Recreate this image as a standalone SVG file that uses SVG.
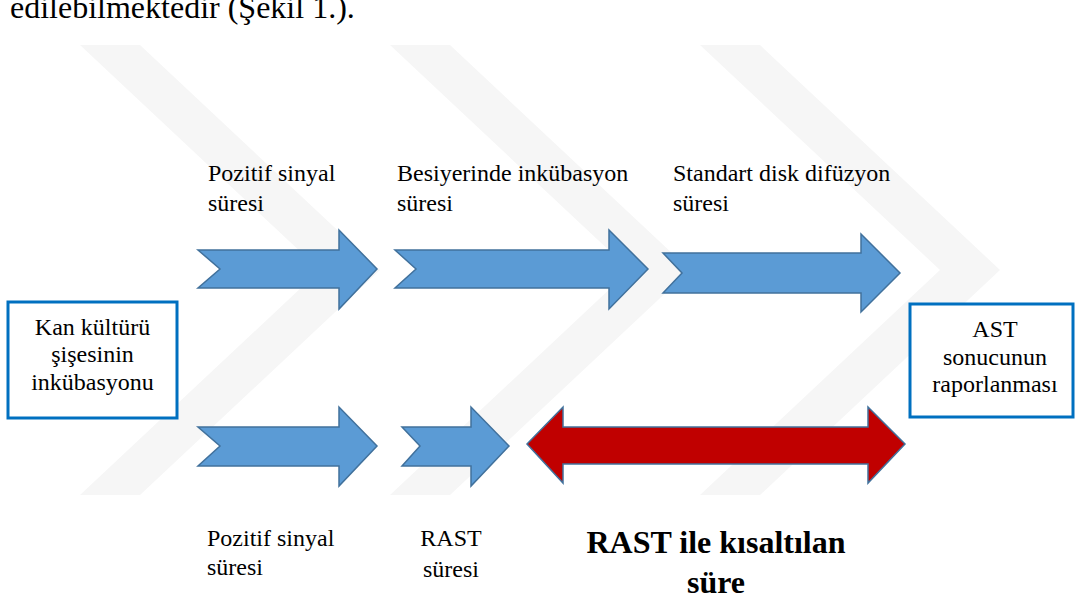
<svg xmlns="http://www.w3.org/2000/svg" width="1076" height="598" viewBox="0 0 1076 598">
<style>
  .t { font-family: "Liberation Serif", "Times New Roman", serif; font-size: 24px; fill: #000; }
  .mid { text-anchor: middle; }
  .big { font-family: "Liberation Serif", "Times New Roman", serif; font-size: 32px; fill: #000; }
  .bold { font-weight: bold; }
  .box { fill: #fff; stroke: #0070c0; stroke-width: 3; }
  .arr { fill: #5b9bd5; stroke: #41719c; stroke-width: 1.5; stroke-linejoin: miter; }
  .red { fill: #c00000; stroke: #41719c; stroke-width: 1.5; }
  .wm { fill: #f6f6f6; }
</style>
<rect width="1076" height="598" fill="#fff"/>
<g id="watermark">
  <polygon class="wm" points="80,45 140,45 380,270 140,495 80,495 320,270"/>
  <polygon class="wm" points="390,45 450,45 690,270 450,495 390,495 630,270"/>
  <polygon class="wm" points="700,45 760,45 1000,270 760,495 700,495 940,270"/>
</g>
<text class="big" x="10" y="18">edilebilmektedir (Şekil 1.).</text>
<g id="connectors">
  <polygon id="arrow-top-1" class="arr" points="198,250 339,250 339,230 377,269 339,309 339,288 198,288 220,269"/>
  <polygon id="arrow-top-2" class="arr" points="395,250 609,250 609,230 648,269 609,309 609,288 395,288 416,269"/>
  <polygon id="arrow-top-3" class="arr" points="663,253 861,253 861,234 900,273 861,312 861,293 663,293 682,273"/>
  <polygon id="arrow-bot-1" class="arr" points="198,427 339,427 339,407 377,446 339,486 339,466 198,466 220,446"/>
  <polygon id="arrow-bot-2" class="arr" points="402,427 471,427 471,407 509,446 471,486 471,466 402,466 420,446"/>
  <polygon id="arrow-red" class="red" points="527,444 563,407 563,427 868,427 868,407 905,444 868,483 868,464 563,464 563,483"/>
</g>
<g id="node-start">
  <rect class="box" x="8" y="302" width="169" height="116"/>
  <text class="t mid" x="92.5" y="335">Kan kültürü</text>
  <text class="t mid" x="92.5" y="362">şişesinin</text>
  <text class="t mid" x="92.5" y="390">inkübasyonu</text>
</g>
<g id="node-end">
  <rect class="box" x="910" y="304" width="163" height="113"/>
  <text class="t mid" x="995" y="337">AST</text>
  <text class="t mid" x="995" y="365">sonucunun</text>
  <text class="t mid" x="995" y="392">raporlanması</text>
</g>
<g id="labels-top">
  <text class="t" x="208" y="181">Pozitif sinyal</text>
  <text class="t" x="208" y="211">süresi</text>
  <text class="t" x="397" y="181">Besiyerinde inkübasyon</text>
  <text class="t" x="397" y="211">süresi</text>
  <text class="t" x="673" y="181">Standart disk difüzyon</text>
  <text class="t" x="673" y="211">süresi</text>
</g>
<g id="labels-bottom">
  <text class="t" x="207" y="546">Pozitif sinyal</text>
  <text class="t" x="207" y="575">süresi</text>
  <text class="t mid" x="451" y="546">RAST</text>
  <text class="t mid" x="451" y="577">süresi</text>
  <text class="big bold mid" x="716" y="553">RAST ile kısaltılan</text>
  <text class="big bold mid" x="716" y="593">süre</text>
</g>
</svg>
